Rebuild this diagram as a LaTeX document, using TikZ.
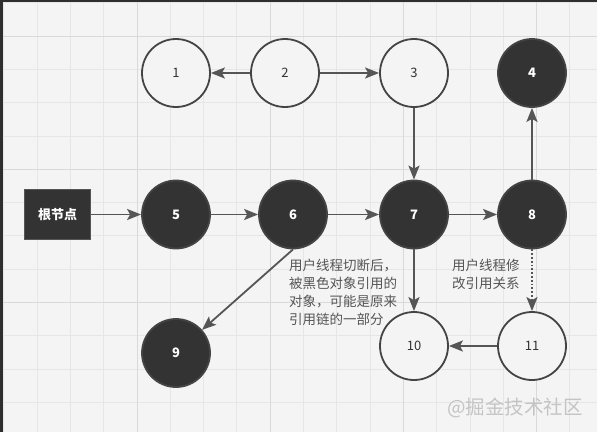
\documentclass[tikz,border=0pt]{standalone}
\usepackage{fontspec}
\setmainfont{Noto Sans CJK SC}
\usetikzlibrary{arrows.meta}

\definecolor{canvas}{HTML}{F4F4F4}
\definecolor{gridminor}{HTML}{E6E6E6}
\definecolor{gridmajor}{HTML}{D9D9D9}
\definecolor{frame}{HTML}{2E2E2E}
\definecolor{ink}{HTML}{555555}
\definecolor{blackobj}{HTML}{333333}
\definecolor{outline}{HTML}{444444}
\definecolor{mark}{HTML}{C4C4C4}

\tikzset{
  whiteobj/.style={circle, draw=outline, line width=1.8pt, fill=canvas,
    minimum size=68pt, inner sep=0pt, text=blackobj, font=\fontsize{13}{15}\selectfont},
  darkobj/.style={circle, draw=outline, line width=1.8pt, fill=blackobj,
    minimum size=68pt, inner sep=0pt, text=white, font=\bfseries\fontsize{13}{15}\selectfont},
  rootbox/.style={rectangle, draw=ink, line width=1.2pt, fill=blackobj,
    minimum width=66pt, minimum height=50pt, inner sep=0pt, text=white,
    font=\bfseries\fontsize{13}{15}\selectfont},
  ref/.style={draw=ink, line width=1.8pt,
    -{Stealth[length=14pt, width=11pt, inset=3pt]}},
  note/.style={anchor=west, align=left, inner sep=0pt, text=ink,
    font=\fontsize{13.5}{18}\selectfont}
}

\begin{document}
\begin{tikzpicture}[x=1pt, y=-1pt]
  \useasboundingbox (0,0) rectangle (597,432);
  % canvas and grid
  \fill[canvas] (0,0) rectangle (597,432);
  \foreach \k in {0,...,17} {
    \pgfmathsetmacro{\gx}{3.7+33.3*\k}
    \draw[gridminor, line width=0.8pt] (\gx,0) -- (\gx,432);
  }
  \foreach \k in {0,...,12} {
    \pgfmathsetmacro{\gy}{2.7+33.3*\k}
    \draw[gridminor, line width=0.8pt] (0,\gy) -- (597,\gy);
  }
  \foreach \gx in {137,270.2,403.4,536.6}
    \draw[gridmajor, line width=0.8pt] (\gx,0) -- (\gx,432);
  \foreach \gy in {36,169.2,302.4}
    \draw[gridmajor, line width=0.8pt] (0,\gy) -- (597,\gy);
  \fill[frame] (0,0) rectangle (597,2);
  \fill[frame] (0,0) rectangle (3,432);

  % objects
  \node[whiteobj] (n1) at (176,73) {1};
  \node[whiteobj] (n2) at (285,73) {2};
  \node[whiteobj] (n3) at (414,73) {3};
  \node[darkobj]  (n4) at (532,73) {4};
  \node[rootbox]  (root) at (57.5,214.5) {根节点};
  \node[darkobj]  (n5) at (176,214.5) {5};
  \node[darkobj]  (n6) at (293,214.5) {6};
  \node[darkobj]  (n7) at (414,214.5) {7};
  \node[darkobj]  (n8) at (532,214.5) {8};
  \node[darkobj]  (n9) at (176,353) {9};
  \node[whiteobj] (n10) at (414,346) {10};
  \node[whiteobj] (n11) at (532,346) {11};

  % references
  \draw[ref] (n2) -- (n1);
  \draw[ref] (n2) -- (n3);
  \draw[ref] (n3) -- (n7);
  \draw[ref] (n8) -- (n4);
  \draw[ref] (root) -- (n5);
  \draw[ref] (n5) -- (n6);
  \draw[ref] (n6) -- (n7);
  \draw[ref] (n7) -- (n8);
  \draw[ref] (n6.south) -- (n9);
  \draw[ref] (n7) -- (n10);
  \draw[ref, dotted] (n8) -- (n11);
  \draw[ref] (n11) -- (n10);

  % notes
  \node[note] (cut) at (289,292.5) {用户线程切断后，\\被黑色对象引用的\\对象，可能是原来\\引用链的一部分};
  \node[note] (mod) at (452,274) {用户线程修\\改引用关系};
  \node[text=mark, inner sep=0pt, font=\fontsize{19.5}{21}\selectfont] (wm) at (515,408) {@掘金技术社区};
\end{tikzpicture}
\end{document}
